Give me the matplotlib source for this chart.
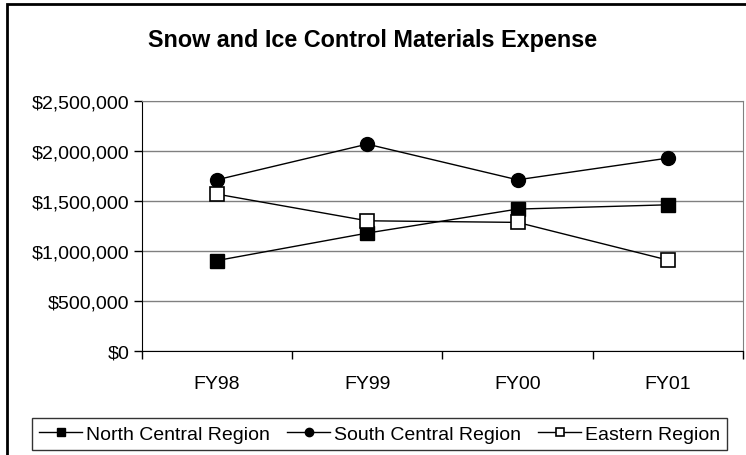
import numpy as np
import matplotlib.pyplot as plt
from matplotlib.patches import Rectangle
from matplotlib.ticker import FuncFormatter

plt.rcParams['font.family'] = ['Liberation Sans', 'DejaVu Sans']

years = ["FY98", "FY99", "FY00", "FY01"]
north_central = [905000, 1180000, 1420000, 1463000]
south_central = [1713000, 2070000, 1713000, 1930000]
eastern = [1570000, 1303000, 1287000, 910000]

fig = plt.figure(figsize=(7.46, 4.56), dpi=100)
ax = fig.add_axes([0.190, 0.228, 0.806, 0.548])

x = np.arange(len(years))
ax.plot(x, north_central, color="black", lw=1.0, marker="s", ms=10,
        mfc="black", mec="black", label="North Central Region", zorder=3)
ax.plot(x, south_central, color="black", lw=1.0, marker="o", ms=10,
        mfc="black", mec="black", label="South Central Region", zorder=3)
ax.plot(x, eastern, color="black", lw=1.0, marker="s", ms=10,
        mfc="white", mec="black", mew=1.2, label="Eastern Region", zorder=3)

ax.set_xlim(-0.5, 3.5)
ax.set_ylim(0, 2500000)
ax.set_yticks(np.arange(0, 2500001, 500000))
ax.yaxis.set_major_formatter(FuncFormatter(lambda v, p: "${:,.0f}".format(v)))
ax.grid(axis="y", color="#808080", lw=1.0)
ax.set_axisbelow(True)

# category labels between the boundary ticks
ax.set_xticks(np.arange(-0.5, 3.6, 1.0))
ax.set_xticklabels([])
ax.set_xticks(x, minor=True)
ax.set_xticklabels(years, minor=True)
ax.tick_params(axis="x", which="minor", length=0, pad=17.5, labelsize=14)
ax.tick_params(axis="x", which="major", length=6, width=1, direction="out")
ax.tick_params(axis="y", length=6, width=1, direction="out", labelsize=14, pad=3)

for s in ["top", "right"]:
    ax.spines[s].set_color("#808080")
for s in ["left", "bottom"]:
    ax.spines[s].set_color("black")

fig.text(0.5, 0.912, "Snow and Ice Control Materials Expense", ha="center",
         va="center", fontsize=16.8, fontweight="bold")

leg = fig.legend(loc="center", bbox_to_anchor=(0.509, 0.046), ncol=3,
                 fontsize=14, frameon=True, fancybox=False, handlelength=2.2,
                 handletextpad=0.2, columnspacing=0.9, borderpad=0.35,
                 edgecolor="black", markerscale=0.6)
leg.get_frame().set_linewidth(1.0)

fig.patches.append(Rectangle((0.0094, -0.2), 1.2, 1.189,
                             transform=fig.transFigure, fill=False,
                             edgecolor="black", lw=2))

fig.savefig("out.png", dpi=100)
